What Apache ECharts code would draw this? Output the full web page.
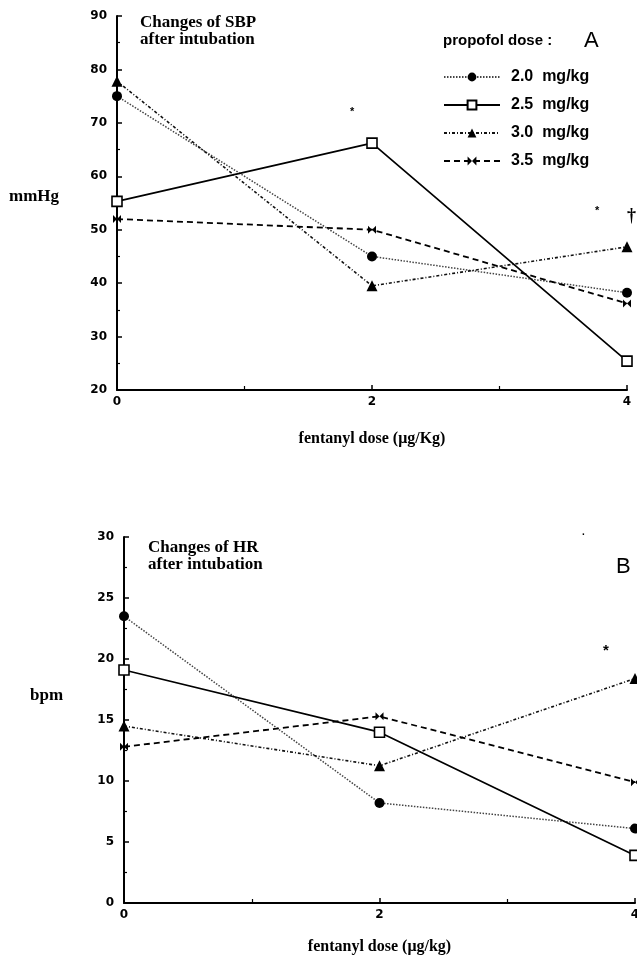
<!DOCTYPE html>
<html><head><meta charset="utf-8">
<script src="https://cdn.jsdelivr.net/npm/echarts@6/dist/echarts.min.js"></script>
<style>html,body{margin:0;padding:0;background:#fff}#c{width:637px;height:959px}</style>
</head><body><div id="c"></div>
<script>
var doses = [0, 2, 4];
var seriesNames = ['2.0  mg/kg', '2.5  mg/kg', '3.0  mg/kg', '3.5  mg/kg'];
var sbp20 = [75.0, 45.0, 38.2];
var sbp25 = [55.3, 66.2, 25.4];
var sbp30 = [77.8, 39.5, 46.8];
var sbp35 = [52.0, 50.0, 36.2];
var hr20 = [23.5, 8.2, 6.1];
var hr25 = [19.1, 14.0, 3.9];
var hr30 = [14.5, 11.25, 18.4];
var hr35 = [12.8, 15.3, 9.9];
var xTicks = [0, 2, 4];
var sbpTicks = [20, 30, 40, 50, 60, 70, 80, 90];
var hrTicks = [0, 5, 10, 15, 20, 25, 30];

var serif = '"Liberation Serif","DejaVu Serif",serif';
var sans = '"DejaVu Sans","Liberation Sans",Arial,sans-serif';
var lsans = '"Liberation Sans",Arial,sans-serif';
var styles = [
  {symbol:'circle', size:10, line:{type:[1.5,1.5], width:1.5, color:'#444'}, item:{color:'#000'}},
  {symbol:'rect', size:10, line:{type:'solid', width:1.7, color:'#000'}, item:{color:'#fff', borderColor:'#000', borderWidth:1.6}},
  {symbol:'triangle', size:11, line:{type:[3,2,1,2], width:1.6, color:'#111'}, item:{color:'#000'}},
  {symbol:'path://M0,0L10,10L10,0L0,10Z', size:8, line:{type:[6,4], width:1.8, color:'#000'}, item:{color:'#000'}}
];
function pairs(v){ return doses.map(function(d,i){ return [d, v[i]]; }); }
function mk(name, vals, k, gi){
  var s = styles[k];
  return {type:'line', name:name, xAxisIndex:gi, yAxisIndex:gi, data:pairs(vals),
    symbol:s.symbol, symbolSize:s.size, showSymbol:true, lineStyle:s.line, itemStyle:s.item,
    clip:false, animation:false, z: k===1?3:2};
}
function xAx(gi, nm){
  return {type:'value', gridIndex:gi, min:xTicks[0], max:xTicks[xTicks.length-1], interval:xTicks[1]-xTicks[0],
    name:nm, nameLocation:'middle', nameGap: gi===0?41:36,
    nameTextStyle:{fontFamily:serif, fontWeight:'bold', fontSize:16, color:'#000'},
    axisLine:{lineStyle:{color:'#000', width:2}},
    axisTick:{inside:true, length:5, lineStyle:{color:'#000', width:1.5}},
    minorTick:{show:true, splitNumber:2, length:4, lineStyle:{color:'#000', width:1.2}},
    splitLine:{show:false},
    axisLabel:{fontFamily:sans, fontWeight:'bold', fontSize:12, color:'#000', margin:6}};
}
function yAx(gi, ticks){
  return {type:'value', gridIndex:gi, min:ticks[0], max:ticks[ticks.length-1], interval:ticks[1]-ticks[0],
    axisLine:{show:true, lineStyle:{color:'#000', width:2}},
    axisTick:{show:true, inside:true, length:5, lineStyle:{color:'#000', width:1.5}},
    minorTick:{show:true, splitNumber:2, length:3, lineStyle:{color:'#000', width:1.2}},
    splitLine:{show:false},
    axisLabel:{fontFamily:sans, fontWeight:'bold', fontSize:12, color:'#000', margin:10}};
}
var chart = echarts.init(document.getElementById('c'), null, {renderer:'canvas'});
chart.setOption({
  backgroundColor:'#fff',
  animation:false,
  grid:[
    {left:117, right:10, top:16, height:374, outerBoundsMode:'none', containLabel:false},
    {left:124, right:2, top:537, height:366, outerBoundsMode:'none', containLabel:false}
  ],
  xAxis:[xAx(0,'fentanyl dose (\u03bcg/Kg)'), xAx(1,'fentanyl dose (\u03bcg/kg)')],
  yAxis:[yAx(0,sbpTicks), yAx(1,hrTicks)],
  legend:{show:true, orient:'vertical', left:438, top:64, itemWidth:56, itemHeight:11, itemGap:12,
    data:seriesNames, selectedMode:false,
    textStyle:{fontFamily:lsans, fontWeight:'bold', fontSize:16, color:'#000', padding:[0,0,0,6]}},
  graphic:[
    {type:'text', left:140, top:14, style:{text:'Changes of SBP\nafter intubation', font:'bold 17px '+serif, fill:'#000', lineHeight:17}},
    {type:'text', left:148, top:539, style:{text:'Changes of HR\nafter intubation', font:'bold 17px '+serif, fill:'#000', lineHeight:17}},
    {type:'text', left:443, top:33, style:{text:'propofol dose :', font:'bold 15px '+lsans, fill:'#000'}},
    {type:'text', left:584, top:30, style:{text:'A', font:'22px '+lsans, fill:'#000'}},
    {type:'text', left:616, top:556, style:{text:'B', font:'22px '+lsans, fill:'#000'}},
    {type:'text', left:9, top:188, style:{text:'mmHg', font:'bold 17px '+serif, fill:'#000'}},
    {type:'text', left:30, top:687, style:{text:'bpm', font:'bold 17px '+serif, fill:'#000'}},
    {type:'text', left:350, top:106, style:{text:'*', font:'bold 11px '+lsans, fill:'#000'}},
    {type:'text', left:595, top:205, style:{text:'*', font:'bold 11px '+lsans, fill:'#000'}},
    {type:'text', left:627, top:207, style:{text:'\u2020', font:'bold 18px '+serif, fill:'#000'}},
    {type:'text', left:603, top:643, style:{text:'*', font:'bold 15px '+lsans, fill:'#000'}},
    {type:'text', left:582, top:527, style:{text:'.', font:'bold 10px '+lsans, fill:'#000'}}
  ],
  series:[
    mk(seriesNames[0], sbp20, 0, 0), mk(seriesNames[1], sbp25, 1, 0),
    mk(seriesNames[2], sbp30, 2, 0), mk(seriesNames[3], sbp35, 3, 0),
    mk(seriesNames[0], hr20, 0, 1), mk(seriesNames[1], hr25, 1, 1),
    mk(seriesNames[2], hr30, 2, 1), mk(seriesNames[3], hr35, 3, 1)
  ]
});
</script></body></html>
